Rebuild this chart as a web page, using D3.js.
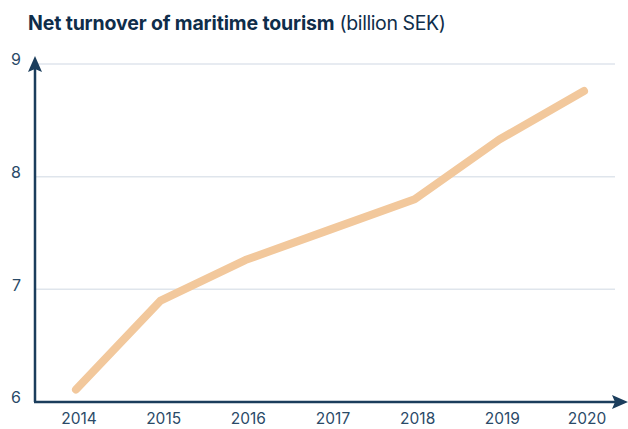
<!DOCTYPE html>
<html>
<head>
<meta charset="utf-8">
<script src="https://cdn.jsdelivr.net/npm/d3@7"></script>
<style>
  body { margin: 0; background: #fff; }
  text { font-family: Inter, "Open Sans", sans-serif; }
</style>
</head>
<body>
<div id="chart"></div>
<script>
// chart data
var years = ['2014', '2015', '2016', '2017', '2018', '2019', '2020'];
var turnover = [6.11, 6.90, 7.26, 7.53, 7.80, 8.33, 8.76];
var yTicks = [6, 7, 8, 9];

var width = 628, height = 429;
var navy = '#1b3d5c';

var svg = d3.select('#chart').append('svg')
    .attr('width', width)
    .attr('height', height);

// title
var title = svg.append('text')
    .attr('x', 28)
    .attr('y', 30)
    .attr('fill', '#0f2d4a')
    .style('font-size', '19.5px');
title.append('tspan').attr('font-weight', 700).attr('letter-spacing', '-0.15px').text('Net turnover of maritime tourism');
title.append('tspan').attr('font-weight', 400).attr('letter-spacing', '-0.4px').text(' (billion SEK)');

// scales
var x = d3.scalePoint().domain(years).range([76, 584]);
var y = d3.scaleLinear().domain([6, 9]).range([402, 64]);

// gridlines
svg.append('g')
    .selectAll('line')
    .data(yTicks.filter(d => d > 6))
    .join('line')
    .attr('x1', 36).attr('x2', 615)
    .attr('y1', d => y(d)).attr('y2', d => y(d))
    .attr('stroke', '#dfe5ec')
    .attr('stroke-width', 1.5);

// y tick labels
svg.append('g')
    .selectAll('text')
    .data(yTicks)
    .join('text')
    .attr('x', 21)
    .attr('y', d => y(d) - 3)
    .attr('text-anchor', 'end')
    .attr('dominant-baseline', 'middle')
    .attr('fill', '#2a4a68')
    .style('font-size', '16px')
    .text(d => d);

// x tick labels
svg.append('g')
    .selectAll('text')
    .data(years)
    .join('text')
    .attr('x', d => x(d) + 3)
    .attr('y', 424)
    .attr('text-anchor', 'middle')
    .attr('fill', '#2a4a68')
    .style('font-size', '15.5px')
    .text(d => d);

// axes with arrows
svg.append('line')
    .attr('x1', 35).attr('x2', 35)
    .attr('y1', y(6)).attr('y2', 66)
    .attr('stroke', navy).attr('stroke-width', 2.5);
svg.append('path')
    .attr('d', 'M35,56 L42,72 L35,69 L28,72 Z')
    .attr('fill', navy);

svg.append('line')
    .attr('x1', 34).attr('x2', 616)
    .attr('y1', y(6)).attr('y2', y(6))
    .attr('stroke', navy).attr('stroke-width', 2.5);
svg.append('path')
    .attr('d', 'M628,' + y(6) + ' L612,' + (y(6) - 7) + ' L615,' + y(6) + ' L612,' + (y(6) + 7) + ' Z')
    .attr('fill', navy);

// data line
var line = d3.line()
    .x((d, i) => x(years[i]))
    .y(d => y(d));

svg.append('path')
    .attr('d', line(turnover))
    .attr('fill', 'none')
    .attr('stroke', '#f2c89c')
    .attr('stroke-width', 8)
    .attr('stroke-linecap', 'round')
    .attr('stroke-linejoin', 'round');
</script>
</body>
</html>
